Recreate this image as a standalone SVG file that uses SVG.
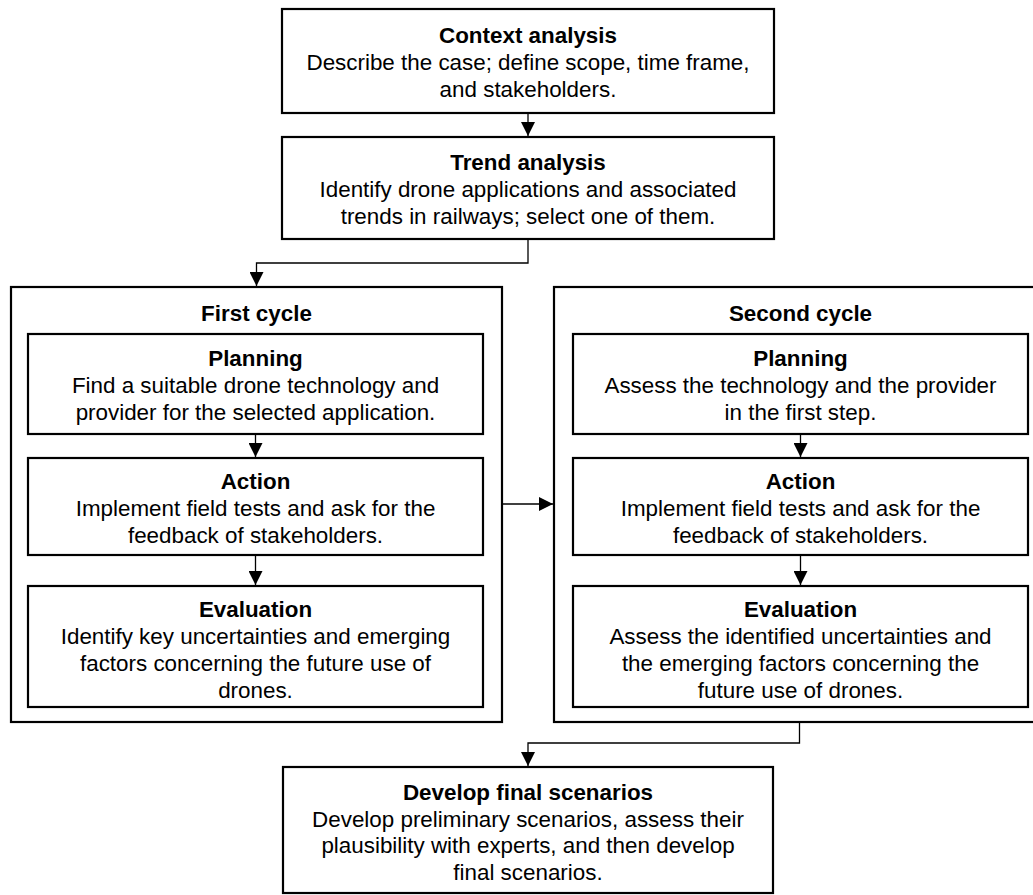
<svg xmlns="http://www.w3.org/2000/svg" width="1033" height="895" viewBox="0 0 1033 895">
<style>
.box{fill:#fff;stroke:#000;stroke-width:2.2}
.t{font-family:"Liberation Sans",Arial,sans-serif;font-size:22.4px;fill:#000;text-anchor:middle}
.b{font-weight:bold}
.c{fill:none;stroke:#000;stroke-width:1.3}
</style>
<defs>
<marker id="ah" viewBox="0 0 10 10" refX="10" refY="5" markerWidth="15" markerHeight="14" markerUnits="userSpaceOnUse" orient="auto">
<path d="M0,0 L10,5 L0,10 z" fill="#000"/>
</marker>
</defs>
<rect width="1033" height="895" fill="#fff"/>
<g id="context">
<rect class="box" x="282" y="9" width="492" height="104"/>
<text class="t b" x="528" y="43">Context analysis</text>
<text class="t" x="528" y="70">Describe the case; define scope, time frame,</text>
<text class="t" x="528" y="97">and stakeholders.</text>
</g>
<g id="trend">
<rect class="box" x="282" y="137" width="492" height="102"/>
<text class="t b" x="528" y="170">Trend analysis</text>
<text class="t" x="528" y="197">Identify drone applications and associated</text>
<text class="t" x="528" y="224">trends in railways; select one of them.</text>
</g>
<g id="first-cycle">
<rect class="box" x="11" y="287" width="491" height="435"/>
<text class="t b" x="256.5" y="321">First cycle</text>
</g>
<g id="first-planning">
<rect class="box" x="28" y="334" width="455" height="100"/>
<text class="t b" x="255.5" y="366">Planning</text>
<text class="t" x="255.5" y="393">Find a suitable drone technology and</text>
<text class="t" x="255.5" y="420">provider for the selected application.</text>
</g>
<g id="first-action">
<rect class="box" x="28" y="458" width="455" height="97"/>
<text class="t b" x="255.5" y="489">Action</text>
<text class="t" x="255.5" y="516">Implement field tests and ask for the</text>
<text class="t" x="255.5" y="543">feedback of stakeholders.</text>
</g>
<g id="first-evaluation">
<rect class="box" x="28" y="586" width="455" height="121"/>
<text class="t b" x="255.5" y="617">Evaluation</text>
<text class="t" x="255.5" y="644">Identify key uncertainties and emerging</text>
<text class="t" x="255.5" y="671">factors concerning the future use of</text>
<text class="t" x="255.5" y="698">drones.</text>
</g>
<g id="second-cycle">
<rect class="box" x="554" y="287" width="491" height="435"/>
<text class="t b" x="800.5" y="321">Second cycle</text>
</g>
<g id="second-planning">
<rect class="box" x="573" y="334" width="455" height="100"/>
<text class="t b" x="800.5" y="366">Planning</text>
<text class="t" x="800.5" y="393">Assess the technology and the provider</text>
<text class="t" x="800.5" y="420">in the first step.</text>
</g>
<g id="second-action">
<rect class="box" x="573" y="458" width="455" height="97"/>
<text class="t b" x="800.5" y="489">Action</text>
<text class="t" x="800.5" y="516">Implement field tests and ask for the</text>
<text class="t" x="800.5" y="543">feedback of stakeholders.</text>
</g>
<g id="second-evaluation">
<rect class="box" x="573" y="586" width="455" height="121"/>
<text class="t b" x="800.5" y="617">Evaluation</text>
<text class="t" x="800.5" y="644">Assess the identified uncertainties and</text>
<text class="t" x="800.5" y="671">the emerging factors concerning the</text>
<text class="t" x="800.5" y="698">future use of drones.</text>
</g>
<g id="final">
<rect class="box" x="283" y="767" width="490" height="126"/>
<text class="t b" x="528" y="800">Develop final scenarios</text>
<text class="t" x="528" y="827">Develop preliminary scenarios, assess their</text>
<text class="t" x="528" y="853">plausibility with experts, and then develop</text>
<text class="t" x="528" y="880">final scenarios.</text>
</g>
<g id="connectors">
<path class="c" d="M528,113 V136" marker-end="url(#ah)"/>
<path class="c" d="M528,239 V263 H256.5 V286" marker-end="url(#ah)"/>
<path class="c" d="M255.5,434 V457" marker-end="url(#ah)"/>
<path class="c" d="M255.5,555 V585" marker-end="url(#ah)"/>
<path class="c" d="M800.5,434 V457" marker-end="url(#ah)"/>
<path class="c" d="M800.5,555 V585" marker-end="url(#ah)"/>
<path class="c" d="M502,504 H553" marker-end="url(#ah)"/>
<path class="c" d="M799.5,722 V743 H528 V766" marker-end="url(#ah)"/>
</g>
</svg>
